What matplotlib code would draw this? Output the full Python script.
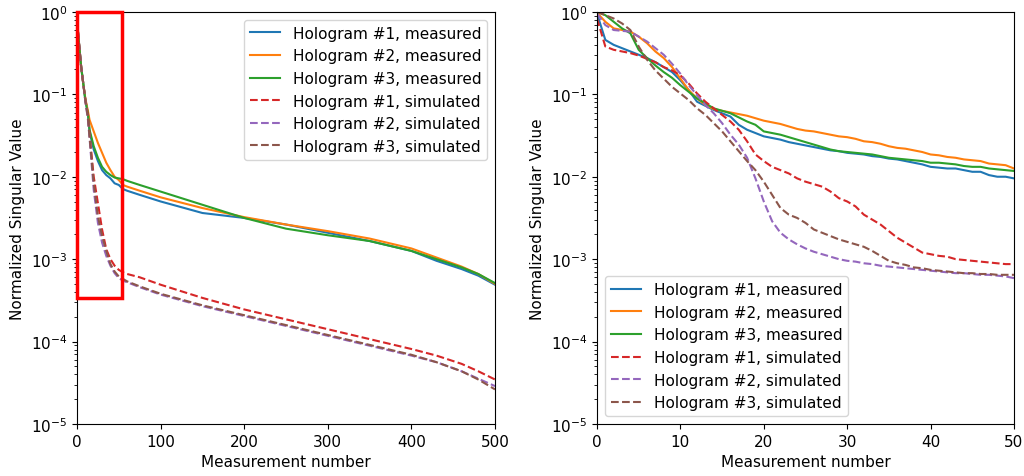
import numpy as np
import matplotlib
matplotlib.use("Agg")
import matplotlib.pyplot as plt
from matplotlib.patches import Rectangle

# ---- Full range (0-500), coarse samples; values are log10 of normalized singular value
full_idx = [0, 2, 5, 8, 10, 13, 15, 20, 25, 30, 35, 40, 45, 50, 55, 60, 75, 100,
            150, 200, 250, 300, 350, 400, 430, 460, 480, 500]
full_meas1 = [-0.10, -0.34, -0.67, -0.91, -1.07, -1.23, -1.45, -1.67, -1.81, -1.92,
              -1.98, -2.02, -2.08, -2.10, -2.15, -2.17, -2.22, -2.30, -2.44, -2.50,
              -2.58, -2.68, -2.78, -2.90, -3.02, -3.12, -3.20, -3.31]
full_meas2 = [-0.10, -0.34, -0.67, -0.91, -1.05, -1.20, -1.31, -1.45, -1.59, -1.71,
              -1.83, -1.92, -2.00, -2.04, -2.10, -2.12, -2.17, -2.25, -2.38, -2.49,
              -2.58, -2.66, -2.75, -2.87, -2.98, -3.09, -3.18, -3.30]
full_meas3 = [-0.10, -0.34, -0.67, -0.91, -1.07, -1.23, -1.43, -1.63, -1.77, -1.88,
              -1.94, -1.98, -2.01, -2.02, -2.03, -2.05, -2.10, -2.18, -2.34, -2.50,
              -2.63, -2.71, -2.78, -2.90, -3.00, -3.10, -3.18, -3.29]
full_sim1 = [-0.10, -0.34, -0.67, -0.91, -1.07, -1.25, -1.48, -2.00, -2.32, -2.64,
             -2.88, -3.00, -3.08, -3.13, -3.16, -3.18, -3.22, -3.31, -3.47, -3.61,
             -3.73, -3.85, -3.97, -4.09, -4.17, -4.27, -4.36, -4.46]
full_sim2 = [-0.10, -0.34, -0.67, -0.91, -1.09, -1.30, -1.53, -2.16, -2.56, -2.80,
             -2.96, -3.08, -3.17, -3.23, -3.26, -3.28, -3.34, -3.43, -3.57, -3.69,
             -3.81, -3.93, -4.05, -4.17, -4.25, -4.36, -4.45, -4.54]
full_sim3 = [-0.10, -0.34, -0.67, -0.91, -1.08, -1.28, -1.51, -2.08, -2.48, -2.72,
             -2.90, -3.06, -3.15, -3.21, -3.24, -3.27, -3.33, -3.42, -3.56, -3.68,
             -3.80, -3.92, -4.04, -4.16, -4.25, -4.36, -4.46, -4.58]

# ---- First 50 measurements, every index; log10 of normalized singular value
first_idx = list(range(51))
first_meas1 = [-0.02, -0.34, -0.40, -0.44, -0.48, -0.52, -0.56, -0.61, -0.67, -0.73,
               -0.83, -0.95, -1.09, -1.14, -1.19, -1.23, -1.27, -1.37, -1.43, -1.47,
               -1.51, -1.53, -1.55, -1.58, -1.60, -1.62, -1.64, -1.66, -1.68, -1.69,
               -1.71, -1.72, -1.73, -1.75, -1.76, -1.78, -1.79, -1.81, -1.83, -1.85,
               -1.88, -1.89, -1.90, -1.90, -1.92, -1.94, -1.94, -1.98, -2.00, -2.00,
               -2.02]
first_meas2 = [-0.01, -0.12, -0.20, -0.22, -0.24, -0.30, -0.38, -0.48, -0.56, -0.67,
               -0.81, -0.95, -1.05, -1.13, -1.18, -1.20, -1.22, -1.24, -1.26, -1.29,
               -1.32, -1.34, -1.36, -1.39, -1.42, -1.44, -1.45, -1.47, -1.49, -1.51,
               -1.52, -1.54, -1.57, -1.58, -1.60, -1.63, -1.65, -1.66, -1.68, -1.70,
               -1.73, -1.74, -1.76, -1.77, -1.79, -1.80, -1.81, -1.84, -1.85, -1.86,
               -1.90]
first_meas3 = [0.00, -0.04, -0.12, -0.20, -0.26, -0.46, -0.56, -0.65, -0.73, -0.80,
               -0.89, -0.97, -1.05, -1.11, -1.17, -1.20, -1.23, -1.28, -1.33, -1.37,
               -1.45, -1.47, -1.49, -1.52, -1.55, -1.58, -1.61, -1.64, -1.67, -1.69,
               -1.70, -1.71, -1.72, -1.73, -1.75, -1.77, -1.78, -1.79, -1.80, -1.81,
               -1.83, -1.83, -1.84, -1.85, -1.87, -1.88, -1.88, -1.90, -1.91, -1.92,
               -1.93]
first_sim1 = [-0.08, -0.42, -0.46, -0.48, -0.50, -0.53, -0.57, -0.61, -0.67, -0.71,
              -0.77, -0.87, -0.99, -1.09, -1.17, -1.25, -1.33, -1.43, -1.57, -1.73,
              -1.81, -1.88, -1.92, -1.96, -2.02, -2.06, -2.09, -2.12, -2.18, -2.26,
              -2.30, -2.36, -2.46, -2.52, -2.58, -2.66, -2.74, -2.80, -2.86, -2.92,
              -2.94, -2.96, -2.97, -3.00, -3.01, -3.02, -3.03, -3.04, -3.05, -3.06,
              -3.06]
first_sim2 = [-0.02, -0.16, -0.22, -0.23, -0.24, -0.30, -0.36, -0.44, -0.52, -0.63,
              -0.75, -0.89, -1.01, -1.13, -1.23, -1.35, -1.49, -1.61, -1.77, -2.02,
              -2.30, -2.54, -2.68, -2.76, -2.82, -2.87, -2.91, -2.94, -2.97, -3.00,
              -3.02, -3.03, -3.05, -3.06, -3.08, -3.09, -3.10, -3.11, -3.12, -3.13,
              -3.14, -3.15, -3.16, -3.17, -3.17, -3.18, -3.19, -3.19, -3.20, -3.21,
              -3.23]
first_sim3 = [0.00, -0.04, -0.08, -0.14, -0.22, -0.42, -0.58, -0.71, -0.81, -0.91,
              -0.99, -1.07, -1.17, -1.25, -1.35, -1.45, -1.57, -1.69, -1.81, -1.92,
              -2.06, -2.22, -2.38, -2.46, -2.50, -2.56, -2.64, -2.68, -2.72, -2.76,
              -2.79, -2.82, -2.85, -2.90, -2.96, -3.02, -3.05, -3.07, -3.10, -3.11,
              -3.13, -3.14, -3.15, -3.16, -3.17, -3.17, -3.18, -3.18, -3.19, -3.19,
              -3.19]

labels = ["Hologram #1, measured", "Hologram #2, measured", "Hologram #3, measured",
          "Hologram #1, simulated", "Hologram #2, simulated", "Hologram #3, simulated"]
colors = ["C0", "C1", "C2", "C3", "C4", "C5"]
styles = ["-", "-", "-", "--", "--", "--"]

panels = [
    (full_idx, [full_meas1, full_meas2, full_meas3, full_sim1, full_sim2, full_sim3],
     500, "upper right"),
    (first_idx, [first_meas1, first_meas2, first_meas3, first_sim1, first_sim2, first_sim3],
     50, "lower left"),
]

FS = 11

fig = plt.figure(figsize=(10.24, 4.77), dpi=100)
ax1 = fig.add_axes([0.0752, 0.109, 0.4082, 0.864])
ax2 = fig.add_axes([0.583, 0.109, 0.4072, 0.864])

for ax, (xs, series, xmax, loc) in zip([ax1, ax2], panels):
    xs = np.array(xs)
    for vals, lab, c, ls in zip(series, labels, colors, styles):
        ax.plot(xs, 10.0 ** np.array(vals), color=c, linestyle=ls, linewidth=1.5, label=lab)
    ax.set_yscale("log")
    ax.set_xlim(0, xmax)
    ax.set_ylim(1e-5, 1)
    ax.set_xlabel("Measurement number", fontsize=FS)
    ax.set_ylabel("Normalized Singular Value", fontsize=FS)
    ax.tick_params(labelsize=FS)
    ax.legend(loc=loc, fontsize=FS)

# Box marking the range expanded in the right panel
zoom_box = Rectangle((0, 3.4e-4), 54, 1.0 - 3.4e-4, fill=False, edgecolor="red",
                     linewidth=2.5, clip_on=False, zorder=5)
ax1.add_patch(zoom_box)

fig.savefig("out.png", dpi=100)
